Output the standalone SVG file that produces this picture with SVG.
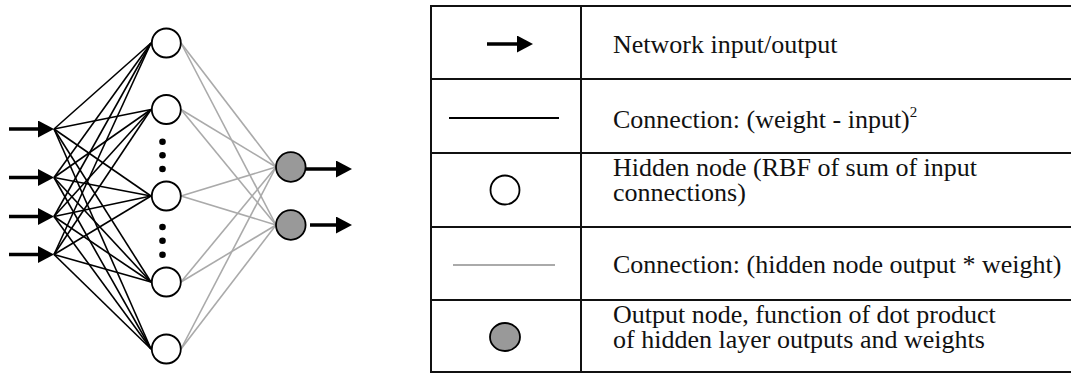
<svg xmlns="http://www.w3.org/2000/svg" width="1071" height="373" viewBox="0 0 1071 373">
<style>
.in{stroke:#000;stroke-width:1.6;fill:none}
.hid{stroke:#aaa;stroke-width:1.6;fill:none}
.arr{stroke:#000;stroke-width:3.5;fill:none;marker-end:url(#ah)}
.hnode{fill:#fff;stroke:#000;stroke-width:1.8}
.onode{fill:#999;stroke:#000;stroke-width:1.8}
.dot{fill:#000}
.grid{stroke:#111;stroke-width:2;fill:none}
.t{font-family:"Liberation Serif","Times New Roman",serif;font-size:26px;fill:#111}
</style>
<defs>
<marker id="ah" markerUnits="userSpaceOnUse" markerWidth="17" markerHeight="17" refX="2" refY="8.5" orient="auto">
<path d="M0,0 L16,8.5 L0,17 z" fill="#000"/>
</marker>
</defs>
<rect width="1071" height="373" fill="#fff"/>
<g id="connectors">
<g id="input-weights">
<line class="in" x1="54" y1="129" x2="151" y2="43"/><line class="in" x1="54" y1="129" x2="151" y2="109.5"/><line class="in" x1="54" y1="129" x2="151" y2="196"/><line class="in" x1="54" y1="129" x2="151" y2="282"/><line class="in" x1="54" y1="129" x2="151" y2="349"/>
<line class="in" x1="54" y1="177.5" x2="151" y2="43"/><line class="in" x1="54" y1="177.5" x2="151" y2="109.5"/><line class="in" x1="54" y1="177.5" x2="151" y2="196"/><line class="in" x1="54" y1="177.5" x2="151" y2="282"/><line class="in" x1="54" y1="177.5" x2="151" y2="349"/>
<line class="in" x1="54" y1="216.5" x2="151" y2="43"/><line class="in" x1="54" y1="216.5" x2="151" y2="109.5"/><line class="in" x1="54" y1="216.5" x2="151" y2="196"/><line class="in" x1="54" y1="216.5" x2="151" y2="282"/><line class="in" x1="54" y1="216.5" x2="151" y2="349"/>
<line class="in" x1="54" y1="254.5" x2="151" y2="43"/><line class="in" x1="54" y1="254.5" x2="151" y2="109.5"/><line class="in" x1="54" y1="254.5" x2="151" y2="196"/><line class="in" x1="54" y1="254.5" x2="151" y2="282"/><line class="in" x1="54" y1="254.5" x2="151" y2="349"/>
</g>
<g id="hidden-weights">
<line class="hid" x1="181" y1="43" x2="276" y2="167"/><line class="hid" x1="181" y1="43" x2="276" y2="225"/>
<line class="hid" x1="181" y1="109.5" x2="276" y2="167"/><line class="hid" x1="181" y1="109.5" x2="276" y2="225"/>
<line class="hid" x1="181" y1="196" x2="276" y2="167"/><line class="hid" x1="181" y1="196" x2="276" y2="225"/>
<line class="hid" x1="181" y1="282" x2="276" y2="167"/><line class="hid" x1="181" y1="282" x2="276" y2="225"/>
<line class="hid" x1="181" y1="349" x2="276" y2="167"/><line class="hid" x1="181" y1="349" x2="276" y2="225"/>
</g>
<g id="io-arrows">
<line class="arr" x1="9" y1="129" x2="40" y2="129"/>
<line class="arr" x1="9" y1="177.5" x2="40" y2="177.5"/>
<line class="arr" x1="9" y1="216.5" x2="40" y2="216.5"/>
<line class="arr" x1="9" y1="254.5" x2="40" y2="254.5"/>
<line class="arr" x1="306" y1="169" x2="338" y2="169"/>
<line class="arr" x1="310" y1="225" x2="338" y2="225"/>
</g>
</g>
<g id="hidden-1"><circle class="hnode" cx="166.3" cy="43" r="14.5"/></g>
<g id="hidden-2"><circle class="hnode" cx="166.3" cy="109.5" r="14.5"/></g>
<g id="hidden-3"><circle class="hnode" cx="166.3" cy="196" r="14.5"/></g>
<g id="hidden-4"><circle class="hnode" cx="166.3" cy="282" r="14.5"/></g>
<g id="hidden-5"><circle class="hnode" cx="166.3" cy="349" r="14.5"/></g>
<g id="ellipsis-1"><circle class="dot" cx="162.5" cy="141.7" r="3.3"/><circle class="dot" cx="162.5" cy="155.3" r="3.3"/><circle class="dot" cx="162.5" cy="169" r="3.3"/></g>
<g id="ellipsis-2"><circle class="dot" cx="162.5" cy="227" r="3.3"/><circle class="dot" cx="162.5" cy="240.7" r="3.3"/><circle class="dot" cx="162.5" cy="254.7" r="3.3"/></g>
<g id="output-1"><circle class="onode" cx="290.8" cy="167" r="14.8"/></g>
<g id="output-2"><circle class="onode" cx="290.8" cy="225" r="14.8"/></g>
<g id="legend">
<path class="grid" d="M431,6 H1071 M431,79 H1071 M431,153 H1071 M431,227 H1071 M431,300 H1071 M431,372 H1071 M431,5 V373 M581,5 V373"/>
<line class="arr" x1="487" y1="44" x2="519" y2="44"/>
<line x1="449" y1="118" x2="559" y2="118" stroke="#000" stroke-width="1.8"/>
<circle class="hnode" cx="505" cy="190" r="14.5"/>
<line x1="453" y1="265" x2="555" y2="265" stroke="#aaa" stroke-width="1.8"/>
<ellipse class="onode" cx="505" cy="337" rx="15" ry="14"/>
<text class="t" x="613" y="53">Network input/output</text>
<text class="t" x="613" y="128">Connection: (weight - input)<tspan font-size="15" dy="-11">2</tspan></text>
<text class="t" x="613" y="176">Hidden node (RBF of sum of input</text>
<text class="t" x="613" y="201">connections)</text>
<text class="t" x="613" y="273">Connection: (hidden node output * weight)</text>
<text class="t" x="613" y="323">Output node, function of dot product</text>
<text class="t" x="613" y="348">of hidden layer outputs and weights</text>
</g>
</svg>
